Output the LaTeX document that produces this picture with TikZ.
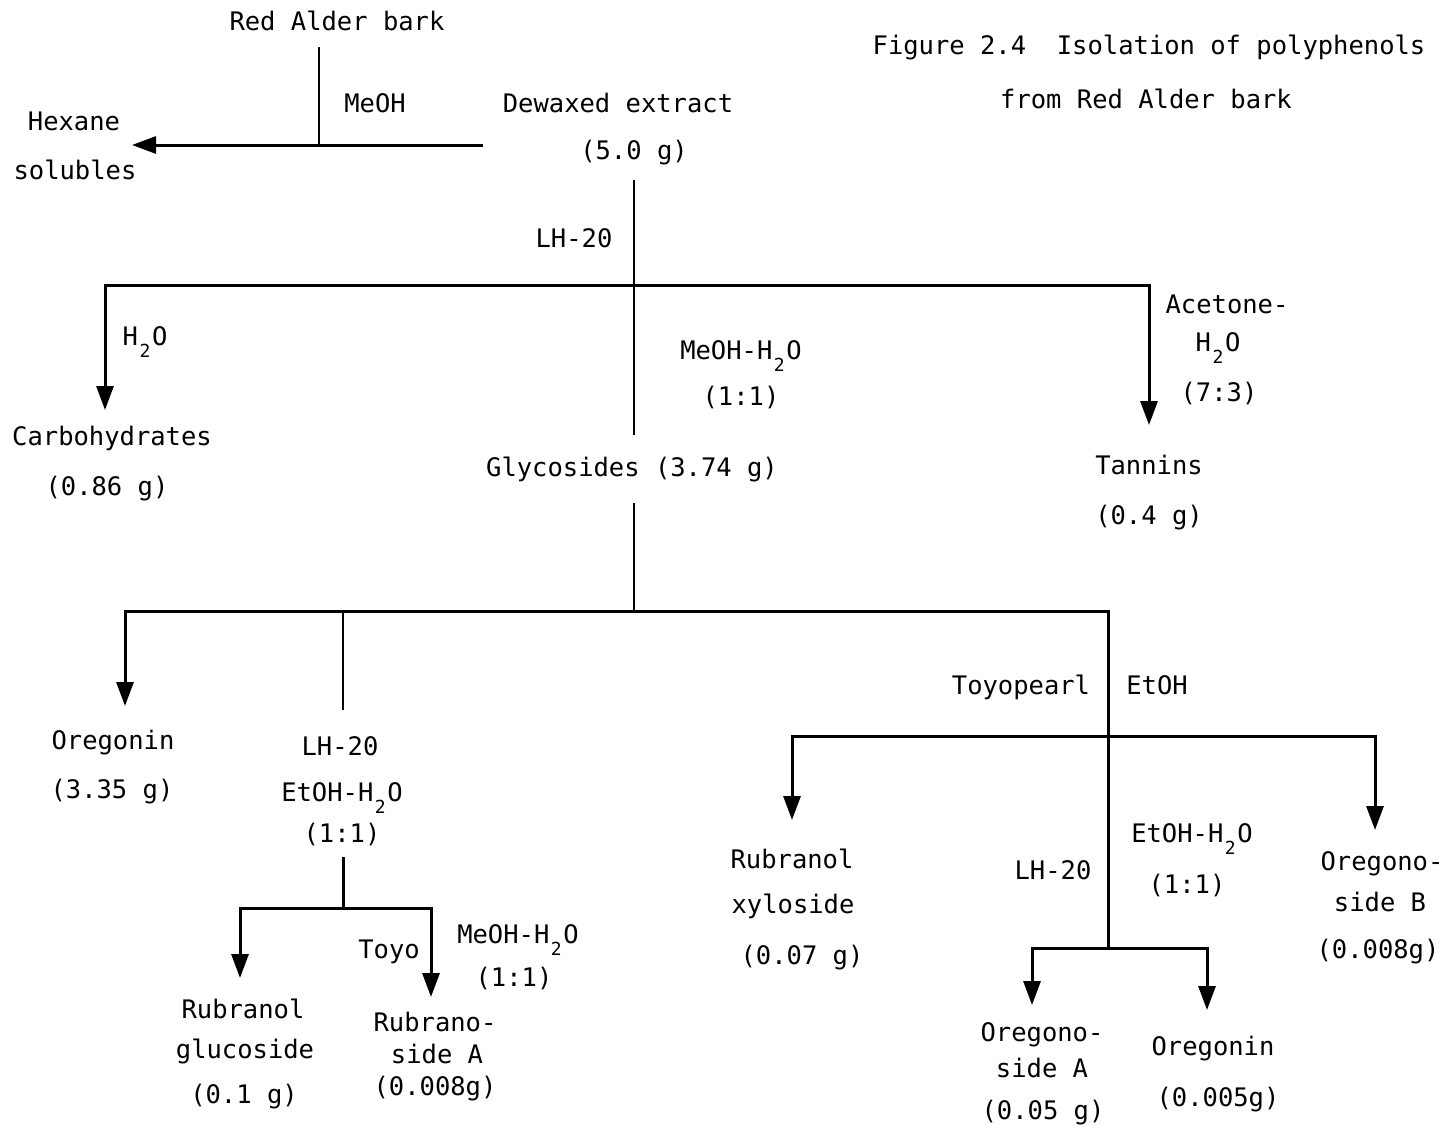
\documentclass[tikz,border=0pt]{standalone}
\usepackage{fontspec}
\setmainfont{DejaVu Sans Mono}
\usetikzlibrary{arrows.meta}
\newcommand\hsub[1]{\makebox[0.55em][c]{\raisebox{-12pt}{\fontsize{18}{18}\selectfont #1}}}
\tikzset{
  lbl/.style={anchor=base, inner sep=0pt, font=\fontsize{25.5}{30}\selectfont},
  thn/.style={line width=2pt},
  bar/.style={line width=3pt, line join=miter},
  arr/.style={line width=3pt, line join=miter, -{Triangle[length=24pt,width=17pt]}},
  arrr/.style={line width=3pt, line join=miter, {Triangle[length=24pt,width=17pt]}-{Triangle[length=24pt,width=17pt]}},
}
\begin{document}
\begin{tikzpicture}[x=1pt,y=-1pt]
\useasboundingbox (0,0) rectangle (1450,1130);

% ---------- text ----------
\node[lbl] (rab)   at (337,30)  {Red Alder bark};
\node[lbl] (meoh1) at (375,112) {MeOH};
\node[lbl] (hex)   at (74,130)  {Hexane};
\node[lbl] (sol)   at (75,179)  {solubles};
\node[lbl] (dew)   at (618,112) {Dewaxed extract};
\node[lbl] (dew2)  at (634,159) {(5.0 g)};
\node[lbl] (tit1)  at (1149,54) {Figure 2.4\ \ Isolation of polyphenols};
\node[lbl] (tit2)  at (1146,108) {from Red Alder bark};
\node[lbl] (lh1)   at (574,247) {LH-20};
\node[lbl] (h2oa)  at (145,345) {H\hsub{2}O};
\node[lbl] (carb)  at (112,445) {Carbohydrates};
\node[lbl] (carb2) at (107,495) {(0.86 g)};
\node[lbl] (mw1)   at (741,359) {MeOH-H\hsub{2}O};
\node[lbl] (r1)    at (741,405) {(1:1)};
\node[lbl] (gly)   at (632,476) {Glycosides (3.74 g)};
\node[lbl] (ace)   at (1227,313) {Acetone-};
\node[lbl] (h2ob)  at (1218,351) {H\hsub{2}O};
\node[lbl] (r73)   at (1219,401) {(7:3)};
\node[lbl] (tan)   at (1149,474) {Tannins};
\node[lbl] (tan2)  at (1149,524) {(0.4 g)};
\node[lbl] (oreg)  at (113,749) {Oregonin};
\node[lbl] (oreg2) at (112,798) {(3.35 g)};
\node[lbl] (lh2)   at (340,755) {LH-20};
\node[lbl] (eh1)   at (342,801) {EtOH-H\hsub{2}O};
\node[lbl] (r2)    at (342,842) {(1:1)};
\node[lbl] (toyo)  at (389,958) {Toyo};
\node[lbl] (mw2)   at (518,943) {MeOH-H\hsub{2}O};
\node[lbl] (r3)    at (514,986) {(1:1)};
\node[lbl] (rg1)   at (243,1018) {Rubranol};
\node[lbl] (rg2)   at (245,1058) {glucoside};
\node[lbl] (rg3)   at (244,1103) {(0.1 g)};
\node[lbl] (ra1)   at (435,1031) {Rubrano-};
\node[lbl] (ra2)   at (437,1063) {side A};
\node[lbl] (ra3)   at (435,1095) {(0.008g)};
\node[lbl] (tp)    at (1021,694) {Toyopearl};
\node[lbl] (etoh)  at (1157,694) {EtOH};
\node[lbl] (rx1)   at (792,868) {Rubranol};
\node[lbl] (rx2)   at (793,913) {xyloside};
\node[lbl] (rx3)   at (802,964) {(0.07 g)};
\node[lbl] (lh3)   at (1053,879) {LH-20};
\node[lbl] (eh2)   at (1192,842) {EtOH-H\hsub{2}O};
\node[lbl] (r4)    at (1187,893) {(1:1)};
\node[lbl] (ob1)   at (1382,870) {Oregono-};
\node[lbl] (ob2)   at (1380,911) {side B};
\node[lbl] (ob3)   at (1378,958) {(0.008g)};
\node[lbl] (oa1)   at (1042,1041) {Oregono-};
\node[lbl] (oa2)   at (1042,1077) {side A};
\node[lbl] (oa3)   at (1043,1119) {(0.05 g)};
\node[lbl] (og1)   at (1213,1055) {Oregonin};
\node[lbl] (og2)   at (1218,1106) {(0.005g)};

% ---------- junction points ----------
\coordinate (a0) at (319,47);
\coordinate (a1) at (319,145);
\coordinate (ar) at (483,145);
\coordinate (al) at (132,145);

\coordinate (b0) at (634,180);
\coordinate (b1) at (634,285);
\coordinate (b2) at (634,435);
\coordinate (bl) at (105,285);
\coordinate (blt) at (105,410);
\coordinate (br) at (1149,285);
\coordinate (brt) at (1149,425);

\coordinate (c0) at (634,503);
\coordinate (c1) at (634,611);
\coordinate (cl) at (125,611);
\coordinate (clt) at (125,706);
\coordinate (cm) at (343,611);
\coordinate (cmb) at (343,710);
\coordinate (cr) at (1108,611);
\coordinate (crb) at (1108,948);

\coordinate (d0) at (343,857);
\coordinate (d1) at (343,908);
\coordinate (dl) at (240,908);
\coordinate (dlt) at (240,978);
\coordinate (dr) at (431,908);
\coordinate (drt) at (431,997);

\coordinate (el) at (792,736);
\coordinate (elt) at (792,820);
\coordinate (er) at (1375,736);
\coordinate (ert) at (1375,830);

\coordinate (fl) at (1032,948);
\coordinate (flt) at (1032,1005);
\coordinate (fr) at (1207,948);
\coordinate (frt) at (1207,1010);

% ---------- connectors ----------
\draw[thn] (a0) -- (a1);
\draw[arr] (ar) -- (al);

\draw[thn] (b0) -- (b1);
\draw[thn] (b1) -- (b2);
\draw[arrr] (blt) -- (bl) -- (br) -- (brt);

\draw[thn] (c0) -- (c1);
\draw[arr] (c1) -- (cl) -- (clt);
\draw[bar] (c1) -- (cr) -- (crb);
\draw[thn] (cm) -- (cmb);

\draw[bar] (d0) -- (d1);
\draw[arrr] (dlt) -- (dl) -- (dr) -- (drt);

\draw[arrr] (elt) -- (el) -- (er) -- (ert);
\draw[arrr] (flt) -- (fl) -- (fr) -- (frt);
\end{tikzpicture}
\end{document}
